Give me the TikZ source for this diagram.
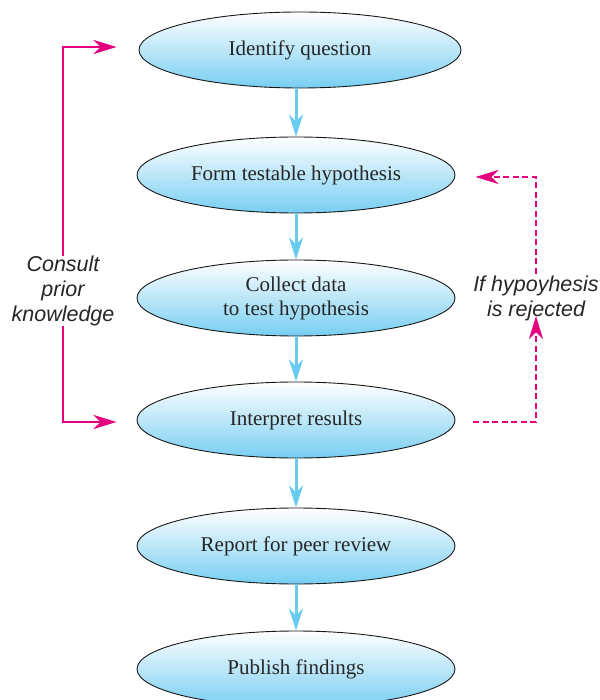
\documentclass[tikz,border=0pt]{standalone}
\usepackage{fontspec}
\setmainfont{Liberation Serif}
\setsansfont{Liberation Sans}
\usetikzlibrary{shapes.geometric,arrows.meta,calc}
\definecolor{skyfill}{RGB}{120,206,242}
\definecolor{skyarrow}{RGB}{104,203,240}
\definecolor{loopmag}{RGB}{230,0,126}
\tikzset{
  stepnode/.style={ellipse,draw=black!90,line width=0.9pt,top color=white,bottom color=skyfill,
    minimum width=318pt,minimum height=76pt,align=center,font=\fontsize{21}{24}\selectfont,
    text=black!85},
  flow/.style={draw=skyarrow,line width=3pt,-{Stealth[length=22pt,width=14pt,inset=7pt]}},
  loopline/.style={draw=loopmag,line width=2.8pt,-{Stealth[length=23pt,width=14pt,inset=7pt]}},
  sidenote/.style={align=center,font=\sffamily\itshape\fontsize{21.5}{25}\selectfont,text=black!85}
}
\begin{document}
\begin{tikzpicture}[x=1pt,y=-1pt]
\useasboundingbox (0,0) rectangle (599,700);
% Các bước chính
\node[stepnode,minimum width=322pt] (identify) at (300,50) {Identify question};
\node[stepnode] (form) at (296,175) {Form testable hypothesis};
\node[stepnode] (collect) at (296,298) {Collect data\\to test hypothesis};
\node[stepnode] (interpret) at (296,420) {Interpret results};
\node[stepnode] (report) at (296,546) {Report for peer review};
\node[stepnode] (publish) at (296,669) {Publish findings};
% Mũi tên xanh giữa các bước
\foreach \a/\b in {identify/form,form/collect,collect/interpret,interpret/report,report/publish}
\draw[flow] (\b.north |- \a.south) -- (\b.north);
% Ghi chú hai bên
\node[sidenote] (consult) at (63,291) {Consult\\prior\\knowledge};
\node[sidenote] (reject) at (536,298) {If hypoyhesis\\is rejected};
\coordinate (toidentify) at ($(identify.west)+(-22,-3)$);
\coordinate (tointerpret) at ($(interpret.west)+(-20,2)$);
\coordinate (fromresult) at ($(interpret.east)+(18,2)$);
\coordinate (toform) at ($(form.east)+(20,2)$);
\draw[loopline] ([yshift=-4pt]consult.north) |- (toidentify);
\draw[loopline] ([yshift=4pt]consult.south) |- (tointerpret);
\draw[loopline,dash pattern=on 6pt off 3.5pt] (fromresult) -| ([yshift=8pt]reject.south);
\draw[loopline,dash pattern=on 6pt off 3.5pt] ([yshift=-2pt]reject.north) |- (toform);
\end{tikzpicture}
\end{document}
